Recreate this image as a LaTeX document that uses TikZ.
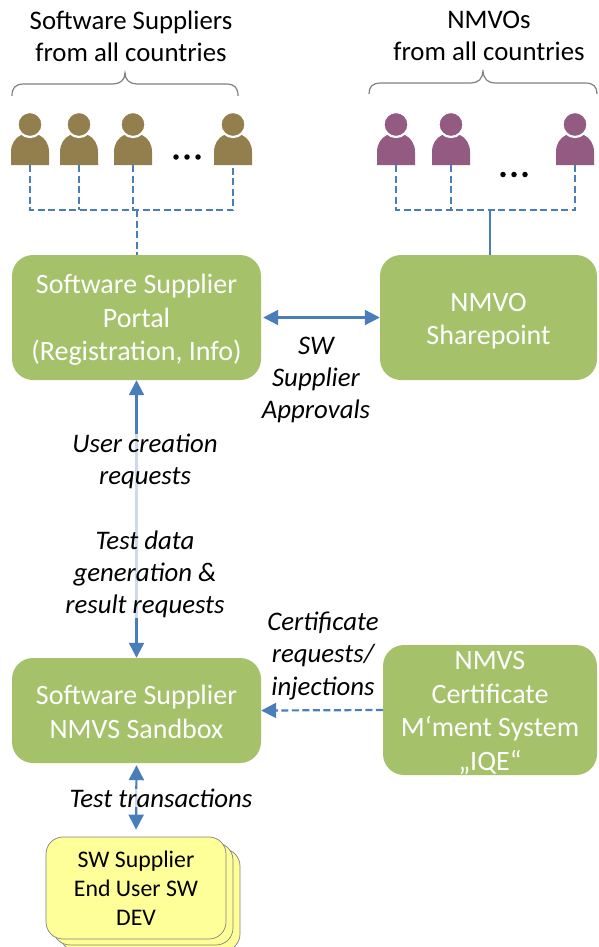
\documentclass[tikz,border=0pt]{standalone}
\usepackage{fontspec}
\setmainfont{Carlito}
\usetikzlibrary{arrows.meta}
\definecolor{boxgreen}{HTML}{A5C26B}
\definecolor{linkblue}{HTML}{4A7EBB}
\definecolor{brownfill}{HTML}{937E4E}
\definecolor{purplefill}{HTML}{935B81}
\definecolor{noteyellow}{HTML}{FFFF99}
\newcommand{\lift}[1]{\rule{0pt}{#1pt}}
\tikzset{
  x=1pt,y=-1pt,
  big/.style={font=\fontsize{26.8}{32.3}\selectfont,align=center,inner sep=0pt},
  boxnode/.style={big,font=\fontsize{28}{33.4}\selectfont,fill=boxgreen,rounded corners=21pt,text=white,minimum width=#1},
  label/.style={big,font=\fontsize{26.8}{32.3}\selectfont\itshape},
  veil/.style={fill=white,fill opacity=.72,text opacity=1},
  notebox/.style={draw=black!50,line width=.7pt,fill=noteyellow,rounded corners=17pt,minimum width=180pt,minimum height=102pt,inner sep=0pt,align=center,font=\fontsize{23.8}{29}\selectfont},
  solidlink/.style={draw=linkblue,line width=2.2pt,{Triangle[width=15pt,length=15pt]}-{Triangle[width=15pt,length=15pt]}},
  dashlink/.style={draw=linkblue,line width=1.6pt,dash pattern=on 7pt off 3.5pt},
  curly/.style={draw=black!50,line width=1.2pt},
  dotmark/.style={fill=black,circle,inner sep=0pt,minimum size=5.5pt},
  person/.pic={
    \coordinate (-foot) at (0,0);
    \fill[pic actions] (-19,0) -- (-19,-13) .. controls (-19,-21) and (-15,-27) .. (-9,-30) -- (9,-30) .. controls (15,-27) and (19,-21) .. (19,-13) -- (19,0) -- cycle;
    \draw[pic actions,draw=white,line width=2.2pt] (0,-40.5) circle (12.5);
  }
}
\begin{document}
\begin{tikzpicture}
\useasboundingbox (0,0) rectangle (598,947);

% headings
\node[big] (hs) at (131,36) {Software Suppliers\\from all countries};
\node[big] (hn) at (489,36) {NMVOs\\from all countries};

% braces
\draw[curly] (12,96) .. controls (12,88) and (15,84) .. (24,84) -- (113,84) .. controls (120,84) and (125,80) .. (125,73) .. controls (125,80) and (130,84) .. (137,84) -- (226,84) .. controls (235,84) and (238,88) .. (238,96);
\draw[curly] (369,94) .. controls (369,87) and (372,83) .. (381,83) -- (471,83) .. controls (478,83) and (483,79) .. (483,70) .. controls (483,79) and (488,83) .. (495,83) -- (585,83) .. controls (594,83) and (597,87) .. (597,94);

% people
\foreach \n/\px in {s1/30,s2/79,s3/133,s4/233}
  \pic[fill=brownfill] (\n) at (\px,165) {person};
\foreach \n/\px in {n1/396,n2/451,n3/575}
  \pic[fill=purplefill] (\n) at (\px,165) {person};

% dots
\foreach \n/\px in {a/176,b/187,c/198}
  \node[dotmark] (sd\n) at (\px,157) {};
\foreach \n/\px in {a/503,b/514,c/525}
  \node[dotmark] (nd\n) at (\px,174.5) {};

% boxes
\node[boxnode=249pt,minimum height=125pt] (portal) at (136.5,317.5) {\lift{24}Software Supplier\\Portal\\(Registration, Info)};
\node[boxnode=217pt,minimum height=125pt] (nmvo) at (488.5,317.5) {\lift{25}NMVO\\Sharepoint};
\node[boxnode=249pt,minimum height=105pt] (sandbox) at (136.5,710.5) {\lift{22}Software Supplier\\NMVS Sandbox};
\node[boxnode=214pt,minimum height=130pt] (cert) at (490,710) {\lift{24}NMVS\\Certificate\\M‘ment System\\„IQE“};

% stacked notes
\node[notebox,fill=noteyellow] (note3) at (150,900) {};
\node[notebox] (note2) at (143,894) {};
\node[notebox] (note1) at (136,888) {SW Supplier\\End User SW\\DEV};

% bus connectors
\coordinate (sbus) at (137,210);
\coordinate (nbus) at (490,210);
\draw[dashlink] (s1-foot) |- (s4-foot |- sbus) -- (s4-foot);
\draw[dashlink] (s2-foot) -- (s2-foot |- sbus);
\draw[dashlink] (s3-foot) -- (s3-foot |- sbus);
\draw[dashlink] (sbus) -- (portal.north -| sbus);
\draw[dashlink] (n1-foot) |- (n3-foot |- nbus) -- (n3-foot);
\draw[dashlink] (n2-foot) -- (n2-foot |- nbus);
\draw[draw=linkblue,line width=1.6pt] (nbus) -- (nmvo.north -| nbus);

% main connectors
\draw[solidlink,shorten <=2pt] (portal.east) -- (nmvo.west);
\draw[solidlink] (portal.south) -- (sandbox.north);
\draw[solidlink,shorten <=2pt,shorten >=7pt] (sandbox.south) -- (note1.north);
\draw[dashlink,-{Triangle[width=15pt,length=15pt]},line width=2.2pt] (cert.west) -- (sandbox.east);

% labels
\node[label,veil] (reqs) at (145,526) {User creation\\requests\\[32.3pt]Test data\\generation \&\\result requests};
\node[label,veil] (tt) at (161,798) {Test transactions};
\node[label] (appr) at (316,380) {SW\\Supplier\\Approvals};
\node[label] (certl) at (323,656) {Certificate\\requests/\\injections};
\end{tikzpicture}
\end{document}
